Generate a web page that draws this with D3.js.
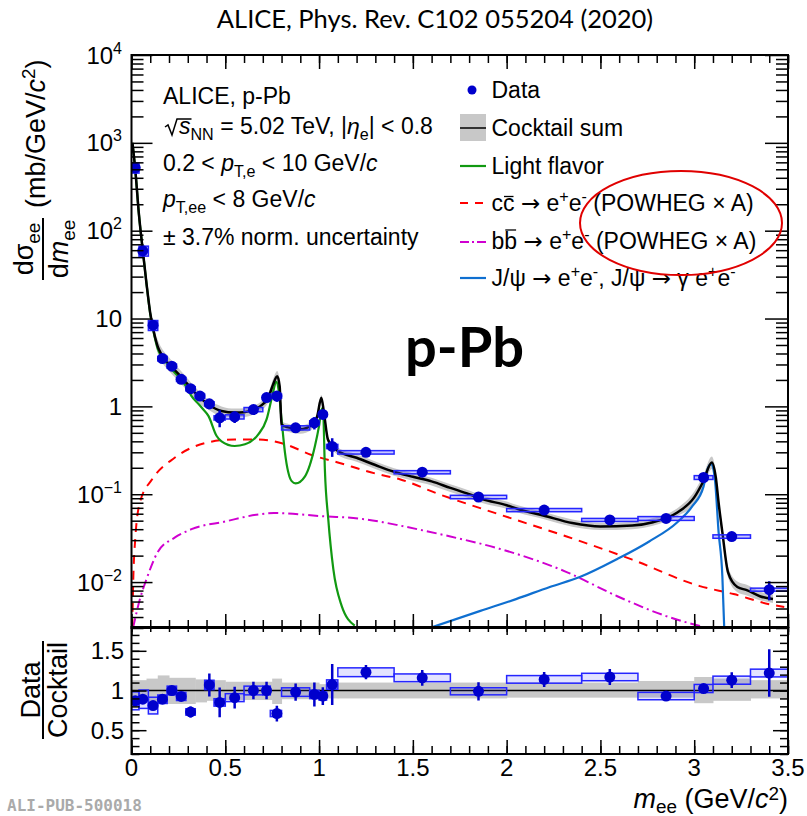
<!DOCTYPE html>
<html>
<head>
<meta charset="utf-8">
<script src="https://cdn.jsdelivr.net/npm/d3@7"></script>
<style>
  body { margin: 0; background: #fff; }
  text { font-family: "Liberation Sans", Arial, Helvetica, sans-serif; }
</style>
</head>
<body>
<svg id="chart" width="807" height="816"></svg>
<script>
// ---- data ----
var massX = [0.02, 0.06, 0.115, 0.165, 0.215, 0.265, 0.315, 0.365, 0.415, 0.47, 0.55, 0.65, 0.72, 0.775,
  0.875, 0.975, 1.02, 1.07, 1.25, 1.55, 1.85, 2.2, 2.55, 2.85, 3.05, 3.2, 3.4];
var binLo = [0, 0.04, 0.09, 0.14, 0.19, 0.24, 0.29, 0.34, 0.39, 0.44, 0.5, 0.6, 0.7, 0.74,
  0.8, 0.95, 1.0, 1.04, 1.1, 1.4, 1.7, 2.0, 2.4, 2.7, 3.0, 3.1, 3.3];
var binHi = [0.04, 0.09, 0.14, 0.19, 0.24, 0.29, 0.34, 0.39, 0.44, 0.5, 0.6, 0.7, 0.74, 0.8,
  0.95, 1.0, 1.04, 1.1, 1.4, 1.7, 2.0, 2.4, 2.7, 3.0, 3.1, 3.3, 3.5];
var yieldData = [520, 59, 8.4, 3.5, 2.87, 2.03, 1.59, 1.31, 1.07, 0.74, 0.76, 0.92, 1.26, 1.31,
  0.57, 0.65, 0.81, 0.35, 0.30, 0.178, 0.093, 0.066, 0.051, 0.053, 0.155, 0.033, 0.0082];
var statRel = [0.035, 0.025, 0.035, 0.035, 0.05, 0.045, 0.095, 0.06, 0.135, 0.22, 0.15, 0.11, 0.11, 0.14,
  0.11, 0.16, 0.12, 0.24, 0.073, 0.086, 0.116, 0.083, 0.085, 0.043, 0.03, 0.088, 0.246];
var sysRel = [0.13, 0.13, 0.13, 0.06, 0.055, 0.055, 0.055, 0.055, 0.055, 0.055, 0.055, 0.055, 0.055, 0.055,
  0.055, 0.055, 0.055, 0.055, 0.045, 0.042, 0.045, 0.042, 0.04, 0.05, 0.05, 0.045, 0.04];
var ratioData = [0.87, 0.89, 0.81, 0.89, 1.0, 0.925, 0.73, null, 1.07, 0.85, 0.91, 1.0, 1.0, 0.71,
  0.98, 0.95, 0.93, 1.075, 1.23, 1.16, 0.99, 1.14, 1.17, 0.93, 1.025, 1.13, 1.22];

// cocktail uncertainty (relative), stepwise in mass
var bandEdge = [0, 0.08, 0.14, 0.2, 0.34, 0.4, 0.5, 0.75, 0.8, 1.0, 1.1, 2.0, 2.7, 3.0, 3.1, 3.3, 3.5];
var bandHi = [1.13, 1.15, 1.19, 1.16, 1.14, 1.13, 1.11, 1.15, 1.1, 1.08, 1.1, 1.1, 1.12, 1.17, 1.15, 1.13];
var bandLo = [0.9, 0.85, 0.83, 0.83, 0.85, 0.87, 0.88, 0.83, 0.89, 0.9, 0.9, 0.91, 0.91, 0.84, 0.87, 0.9];

var cocktailSum = [[0.005, 1000], [0.02, 500], [0.04, 150], [0.06, 60], [0.08, 25], [0.1, 11.5], [0.125, 6.2],
  [0.14, 4.8], [0.16, 3.9], [0.196, 3.1], [0.25, 2.35], [0.3, 1.78], [0.338, 1.43], [0.41, 1.05],
  [0.48, 0.885], [0.55, 0.85], [0.6, 0.86], [0.65, 0.92], [0.685, 1.0], [0.73, 1.27], [0.755, 1.78],
  [0.777, 2.2], [0.79, 1.69], [0.8, 0.62], [0.83, 0.58], [0.9, 0.55], [0.96, 0.61], [0.99, 0.77],
  [1.012, 1.25], [1.026, 0.85], [1.047, 0.42], [1.074, 0.35], [1.1, 0.31], [1.2, 0.26], [1.3, 0.215],
  [1.4, 0.18], [1.5, 0.158], [1.6, 0.14], [1.7, 0.118], [1.8, 0.1], [1.87, 0.088], [2.0, 0.075],
  [2.06, 0.068], [2.2, 0.057], [2.35, 0.047], [2.5, 0.043], [2.67, 0.044], [2.78, 0.048], [2.91, 0.062],
  [3.0, 0.092], [3.046, 0.137], [3.094, 0.23], [3.115, 0.156], [3.13, 0.08], [3.15, 0.037], [3.18, 0.013],
  [3.23, 0.0088], [3.28, 0.0081], [3.35, 0.0069], [3.42, 0.0064]];
var lightFlavor = [[0.005, 1000], [0.02, 500], [0.04, 150], [0.06, 60], [0.08, 25], [0.1, 11.2], [0.125, 6.0],
  [0.14, 4.5], [0.17, 3.5], [0.232, 2.4], [0.26, 2.1], [0.29, 1.7], [0.32, 1.31], [0.36, 1.05], [0.383, 0.92],
  [0.41, 0.78], [0.454, 0.46], [0.48, 0.40], [0.55, 0.354], [0.605, 0.37], [0.676, 0.48], [0.72, 0.71],
  [0.75, 1.3], [0.772, 1.9], [0.785, 1.5], [0.8, 0.71], [0.818, 0.30], [0.854, 0.141], [0.875, 0.133],
  [0.925, 0.16], [0.978, 0.354], [1.0, 0.6], [1.015, 0.95], [1.022, 0.85], [1.031, 0.19], [1.049, 0.052],
  [1.076, 0.014], [1.12, 0.0054], [1.19, 0.0032]];
var charm = [[0.004, 0.003], [0.01, 0.0118], [0.02, 0.031], [0.045, 0.081], [0.11, 0.148], [0.23, 0.26],
  [0.41, 0.39], [0.55, 0.42], [0.67, 0.42], [0.82, 0.37], [0.96, 0.28], [1.1, 0.23], [1.31, 0.17],
  [1.43, 0.148], [1.64, 0.1], [1.96, 0.059], [2.32, 0.033], [2.67, 0.018], [3.03, 0.009], [3.21, 0.0073],
  [3.4, 0.0056], [3.48, 0.0052]];
var beauty = [[0.008, 0.003], [0.045, 0.0064], [0.08, 0.0108], [0.14, 0.022], [0.23, 0.032], [0.32, 0.040],
  [0.5, 0.049], [0.68, 0.059], [0.76, 0.061], [1.03, 0.056], [1.21, 0.053], [1.34, 0.048], [1.43, 0.044],
  [1.7, 0.033], [1.96, 0.024], [2.32, 0.013], [2.59, 0.0069], [2.85, 0.0041], [3.07, 0.003]];
var jpsi = [[1.59, 0.003], [1.86, 0.0047], [2.05, 0.0064], [2.23, 0.0088], [2.39, 0.0114], [2.59, 0.0183],
  [2.76, 0.029], [2.91, 0.048], [2.99, 0.073], [3.05, 0.123], [3.07, 0.19], [3.09, 0.22], [3.11, 0.15],
  [3.13, 0.037], [3.15, 0.0117], [3.16, 0.003]];

var xMajor = [0, 0.5, 1, 1.5, 2, 2.5, 3, 3.5];
var xLabels = ['0', '0.5', '1', '1.5', '2', '2.5', '3', '3.5'];
var yTopMajor = [1e-2, 1e-1, 1, 10, 1e2, 1e3, 1e4];
var yTopBase = ['10', '10', '1', '10', '10', '10', '10'];
var yTopExp = ['\u22122', '\u22121', '', '', '2', '3', '4'];
var yRatMajor = [0.5, 1, 1.5];
var yRatLabels = ['0.5', '1', '1.5'];

// ---- scales ----
var svg = d3.select('#chart');
var x = d3.scaleLinear().domain([0, 3.5]).range([131.5, 788]);
var yTop = d3.scaleLog().domain([3e-3, 1e4]).range([628, 55]);
var yRat = d3.scaleLinear().domain([0.2, 1.8]).range([754, 627]);

var DATA_COL = '#0000cc', BOX_COL = '#2525ff';

var defs = svg.append('defs');
defs.append('clipPath').attr('id', 'clipTop').append('rect')
  .attr('x', x(0)).attr('y', yTop(1e4)).attr('width', x(3.5) - x(0)).attr('height', yTop(3e-3) - yTop(1e4));
defs.append('clipPath').attr('id', 'clipRat').append('rect')
  .attr('x', x(0)).attr('y', yRat(1.8)).attr('width', x(3.5) - x(0)).attr('height', yRat(0.2) - yRat(1.8));

// rich text helper: parts = [[text, kind]], kind in '', 'i', 'sub', 'sup', 'sym'
function rich(parent, parts, size, subK, supK) {
  subK = subK || 0.26; supK = supK || 0.38;
  var t = parent.append('text').style('font-size', size + 'px');
  var shift = 0;
  parts.forEach(function(p) {
    var k = p[1] || '';
    var target = k === 'sub' ? subK * size : k === 'sup' ? -supK * size : 0;
    var ts = t.append('tspan').text(p[0]).attr('dy', target - shift);
    shift = target;
    if (k === 'sub' || k === 'sup') ts.style('font-size', 0.7 * size + 'px');
    if (k === 'i') ts.style('font-style', 'italic');
    if (k === 'sym') ts.style('font-family', '"DejaVu Sans", sans-serif');
  });
  return t;
}

function overline(t, idx, rise) {
  var e = t.node().getExtentOfChar(idx);
  var base = +t.attr('y');
  svg.append('line').attr('x1', e.x + 1).attr('x2', e.x + e.width - 1)
    .attr('y1', base - rise).attr('y2', base - rise).attr('stroke', '#000').attr('stroke-width', 1.3);
}

function bandAt(m, arr) {
  var i = Math.max(0, Math.min(arr.length - 1, d3.bisectRight(bandEdge, m) - 1));
  return arr[i];
}

// ---- title ----
svg.append('text').attr('x', 435).attr('y', 28).attr('text-anchor', 'middle')
  .style('font-family', 'Lato, "Open Sans", sans-serif').style('font-size', '25.5px')
  .text('ALICE, Phys. Rev. C102 055204 (2020)');

// ---- top panel ----
var topG = svg.append('g').attr('clip-path', 'url(#clipTop)');

var bandArea = d3.area().curve(d3.curveMonotoneX)
  .x(function(d) { return x(d[0]); })
  .y0(function(d) { return yTop(d[1] * bandAt(d[0], bandLo)); })
  .y1(function(d) { return yTop(d[1] * bandAt(d[0], bandHi)); });
topG.append('path').datum(cocktailSum).attr('d', bandArea).attr('fill', '#c8c8c8');

var line = d3.line().curve(d3.curveMonotoneX)
  .x(function(d) { return x(d[0]); })
  .y(function(d) { return yTop(d[1]); });

topG.append('path').datum(beauty).attr('d', line).attr('fill', 'none')
  .attr('stroke', '#d000d0').attr('stroke-width', 2).attr('stroke-dasharray', '10,4,2,4');
topG.append('path').datum(charm).attr('d', line).attr('fill', 'none')
  .attr('stroke', '#ff0000').attr('stroke-width', 2).attr('stroke-dasharray', '9,7');
topG.append('path').datum(jpsi).attr('d', line).attr('fill', 'none')
  .attr('stroke', '#0f6fd0').attr('stroke-width', 2.2);
topG.append('path').datum(lightFlavor).attr('d', line).attr('fill', 'none')
  .attr('stroke', '#119911').attr('stroke-width', 2.2);
topG.append('path').datum(cocktailSum).attr('d', line).attr('fill', 'none')
  .attr('stroke', '#000').attr('stroke-width', 2.5);

var idx = d3.range(massX.length);
topG.selectAll('rect.sys').data(idx).enter().append('rect').attr('class', 'sys')
  .attr('x', function(i) { return x(binLo[i]); })
  .attr('width', function(i) { return x(binHi[i]) - x(binLo[i]); })
  .attr('y', function(i) { return yTop(yieldData[i] * (1 + sysRel[i])); })
  .attr('height', function(i) { return yTop(yieldData[i] * (1 - sysRel[i])) - yTop(yieldData[i] * (1 + sysRel[i])); })
  .attr('fill', 'rgba(70,70,255,0.3)').attr('stroke', BOX_COL).attr('stroke-width', 1.5);
topG.selectAll('line.stat').data(idx).enter().append('line').attr('class', 'stat')
  .attr('x1', function(i) { return x(massX[i]); }).attr('x2', function(i) { return x(massX[i]); })
  .attr('y1', function(i) { return yTop(yieldData[i] * (1 + statRel[i])); })
  .attr('y2', function(i) { return yTop(yieldData[i] * (1 - statRel[i])); })
  .attr('stroke', DATA_COL).attr('stroke-width', 2.5);
topG.selectAll('circle').data(idx).enter().append('circle')
  .attr('cx', function(i) { return x(massX[i]); })
  .attr('cy', function(i) { return yTop(yieldData[i]); })
  .attr('r', 5.5).attr('fill', DATA_COL);

// ---- ratio panel ----
var ratG = svg.append('g').attr('clip-path', 'url(#clipRat)');
ratG.selectAll('rect.band').data(bandHi).enter().append('rect').attr('class', 'band')
  .attr('x', function(d, i) { return x(bandEdge[i]); })
  .attr('width', function(d, i) { return x(bandEdge[i + 1]) - x(bandEdge[i]) + 0.5; })
  .attr('y', function(d) { return yRat(d); })
  .attr('height', function(d, i) { return yRat(bandLo[i]) - yRat(d); })
  .attr('fill', '#c8c8c8');
ratG.append('path').datum([[0, 1], [3.5, 1]])
  .attr('d', d3.line().x(function(d) { return x(d[0]); }).y(function(d) { return yRat(d[1]); }))
  .attr('stroke', '#000').attr('stroke-width', 1.5);

var ridx = idx.filter(function(i) { return ratioData[i] !== null; });
ratG.selectAll('rect.sys').data(ridx).enter().append('rect').attr('class', 'sys')
  .attr('x', function(i) { return x(binLo[i]); })
  .attr('width', function(i) { return x(binHi[i]) - x(binLo[i]); })
  .attr('y', function(i) { return yRat(ratioData[i] * (1 + sysRel[i])); })
  .attr('height', function(i) { return yRat(ratioData[i] * (1 - sysRel[i])) - yRat(ratioData[i] * (1 + sysRel[i])); })
  .attr('fill', 'rgba(70,70,255,0.15)').attr('stroke', BOX_COL).attr('stroke-width', 1.5);
ratG.selectAll('line.stat').data(ridx).enter().append('line').attr('class', 'stat')
  .attr('x1', function(i) { return x(massX[i]); }).attr('x2', function(i) { return x(massX[i]); })
  .attr('y1', function(i) { return yRat(ratioData[i] * (1 + statRel[i])); })
  .attr('y2', function(i) { return yRat(ratioData[i] * (1 - statRel[i])); })
  .attr('stroke', DATA_COL).attr('stroke-width', 2.5);
ratG.selectAll('circle').data(ridx).enter().append('circle')
  .attr('cx', function(i) { return x(massX[i]); })
  .attr('cy', function(i) { return yRat(ratioData[i]); })
  .attr('r', 5.5).attr('fill', DATA_COL);

// ---- axes (ROOT style: inward ticks on all four sides) ----
function tickRow(axis, tx, ty, vals, size) {
  svg.append('g').attr('transform', 'translate(' + tx + ',' + ty + ')')
    .call(axis.tickValues(vals).tickSize(-size).tickFormat(''))
    .call(function(g) { g.select('.domain').remove(); })
    .selectAll('line').attr('stroke-width', 1.5);
}
var xMinor = d3.range(0, 36).map(function(i) { return i / 10; });
var logMinor = [];
for (var e = -3; e < 4; e++) for (var m = 2; m < 10; m++) {
  var v = m * Math.pow(10, e);
  if (v >= 3e-3 && v <= 1e4) logMinor.push(v);
}
var ratMinor = d3.range(2, 19).map(function(i) { return i / 10; });

tickRow(d3.axisTop(x), 0, 55, xMinor, 8);
tickRow(d3.axisTop(x), 0, 55, xMajor, 14);
tickRow(d3.axisBottom(x), 0, 628, xMinor, 8);
tickRow(d3.axisBottom(x), 0, 628, xMajor, 14);
tickRow(d3.axisLeft(yTop), x(0), 0, logMinor, 12);
tickRow(d3.axisLeft(yTop), x(0), 0, yTopMajor, 21);
tickRow(d3.axisRight(yTop), x(3.5), 0, logMinor, 12);
tickRow(d3.axisRight(yTop), x(3.5), 0, yTopMajor, 23);

tickRow(d3.axisTop(x), 0, 627, xMinor, 5);
tickRow(d3.axisTop(x), 0, 627, xMajor, 8);
tickRow(d3.axisBottom(x), 0, 754, xMinor, 8);
tickRow(d3.axisBottom(x), 0, 754, xMajor, 14);
tickRow(d3.axisLeft(yRat), x(0), 0, ratMinor, 8);
tickRow(d3.axisLeft(yRat), x(0), 0, yRatMajor, 15);
tickRow(d3.axisRight(yRat), x(3.5), 0, ratMinor, 8);
tickRow(d3.axisRight(yRat), x(3.5), 0, yRatMajor, 15);

// frames
svg.append('rect').attr('x', x(0)).attr('y', yTop(1e4)).attr('width', x(3.5) - x(0))
  .attr('height', yTop(3e-3) - yTop(1e4)).attr('fill', 'none').attr('stroke', '#000').attr('stroke-width', 2);
svg.append('rect').attr('x', x(0)).attr('y', yRat(1.8)).attr('width', x(3.5) - x(0))
  .attr('height', yRat(0.2) - yRat(1.8)).attr('fill', 'none').attr('stroke', '#000').attr('stroke-width', 2);

// tick labels
svg.selectAll('text.xl').data(xMajor).enter().append('text').attr('class', 'xl')
  .attr('x', function(d) { return x(d); }).attr('y', 776).attr('text-anchor', 'middle')
  .style('font-size', '24px').text(function(d, i) { return xLabels[i]; });
yTopMajor.forEach(function(v, i) {
  var t = svg.append('text').attr('x', 122).attr('y', yTop(v) + 8.5).attr('text-anchor', 'end')
    .style('font-size', '24px');
  t.append('tspan').text(yTopBase[i]);
  if (yTopExp[i]) t.append('tspan').attr('dy', -10).style('font-size', '16px').text(yTopExp[i]);
});
yRatMajor.forEach(function(v, i) {
  svg.append('text').attr('x', 124).attr('y', yRat(v) + 8.5).attr('text-anchor', 'end')
    .style('font-size', '24px').text(yRatLabels[i]);
});

// axis titles
var yt = svg.append('g').attr('transform', 'translate(43,280) rotate(-90)');
rich(yt, [['d\u03c3'], ['ee', 'sub']], 27).attr('x', 31).attr('y', -10).attr('text-anchor', 'middle');
yt.append('line').attr('x1', 0).attr('x2', 62).attr('stroke', '#000').attr('stroke-width', 2);
rich(yt, [['d'], ['m', 'i'], ['ee', 'sub']], 27).attr('x', 31).attr('y', 25).attr('text-anchor', 'middle');
rich(yt, [['(mb/GeV/'], ['c', 'i'], ['2', 'sup'], [')']], 27).attr('x', 72).attr('y', 2);

var rt = svg.append('g').attr('transform', 'translate(43,739) rotate(-90)');
rich(rt, [['Data']], 27).attr('x', 49).attr('y', -3).attr('text-anchor', 'middle');
rt.append('line').attr('x1', 0).attr('x2', 98).attr('stroke', '#000').attr('stroke-width', 2);
rich(rt, [['Cocktail']], 27).attr('x', 49).attr('y', 24).attr('text-anchor', 'middle');

rich(svg, [['m', 'i'], ['ee', 'sub'], [' (GeV/'], ['c', 'i'], ['2', 'sup'], [')']], 27, 0.18, 0.3)
  .attr('x', 788).attr('y', 808).attr('text-anchor', 'end');

// ---- info text ----
var FS = 23;
rich(svg, [['ALICE, p-Pb']], FS).attr('x', 163).attr('y', 104);
var sq = rich(svg, [['s', 'i'], ['NN', 'sub'], [' = 5.02 TeV, |'], ['\u03b7', 'i'], ['e', 'sub'], ['| < 0.8']], FS)
  .attr('x', 179).attr('y', 134);
var se = sq.node().getExtentOfChar(0);
svg.append('path').attr('fill', 'none').attr('stroke', '#000').attr('stroke-width', 1.5)
  .attr('d', 'M165,127 L168,125 L172,135 L177,119 L' + (se.x + se.width + 1) + ',119');
rich(svg, [['0.2 < '], ['p', 'i'], ['T,e', 'sub'], [' < 10 GeV/'], ['c', 'i']], FS).attr('x', 163).attr('y', 171);
rich(svg, [['p', 'i'], ['T,ee', 'sub'], [' < 8 GeV/'], ['c', 'i']], FS).attr('x', 163).attr('y', 207);
rich(svg, [['\u00b1 3.7% norm. uncertainty']], FS).attr('x', 163).attr('y', 245);

// ---- legend ----
var LX = 491.5;
svg.append('circle').attr('cx', 472).attr('cy', 90).attr('r', 4.5).attr('fill', DATA_COL);
rich(svg, [['Data']], FS).attr('x', LX).attr('y', 98);
svg.append('rect').attr('x', 460).attr('y', 114).attr('width', 26).attr('height', 27).attr('fill', '#c8c8c8');
svg.append('line').attr('x1', 460).attr('x2', 486).attr('y1', 128).attr('y2', 128).attr('stroke', '#000').attr('stroke-width', 1.5);
rich(svg, [['Cocktail sum']], FS).attr('x', LX).attr('y', 136);
svg.append('line').attr('x1', 460).attr('x2', 486).attr('y1', 166).attr('y2', 166).attr('stroke', '#119911').attr('stroke-width', 2.2);
rich(svg, [['Light flavor']], FS).attr('x', LX).attr('y', 174);
svg.append('line').attr('x1', 460).attr('x2', 486).attr('y1', 203).attr('y2', 203).attr('stroke', '#ff0000')
  .attr('stroke-width', 2).attr('stroke-dasharray', '8,7');
var cc = rich(svg, [['cc '], ['\u2192', 'sym'], [' e'], ['+', 'sup'], ['e'], ['-', 'sup'], [' (POWHEG \u00d7 A)']], FS)
  .attr('x', LX).attr('y', 211);
overline(cc, 1, 14.5);
svg.append('line').attr('x1', 460).attr('x2', 486).attr('y1', 242).attr('y2', 242).attr('stroke', '#d000d0')
  .attr('stroke-width', 2).attr('stroke-dasharray', '9,3,2,3');
var bb = rich(svg, [['bb '], ['\u2192', 'sym'], [' e'], ['+', 'sup'], ['e'], ['-', 'sup'], [' (POWHEG \u00d7 A)']], FS)
  .attr('x', LX).attr('y', 249);
overline(bb, 1, 19);
svg.append('line').attr('x1', 460).attr('x2', 486).attr('y1', 278).attr('y2', 278).attr('stroke', '#0f6fd0').attr('stroke-width', 2.2);
rich(svg, [['J/\u03c8 '], ['\u2192', 'sym'], [' e'], ['+', 'sup'], ['e'], ['-', 'sup'], [', J/\u03c8 '], ['\u2192', 'sym'],
  [' \u03b3 e'], ['+', 'sup'], ['e'], ['-', 'sup']], FS)
  .attr('x', LX).attr('y', 286);

// annotation
svg.append('ellipse').attr('cx', 681).attr('cy', 223).attr('rx', 101).attr('ry', 52)
  .attr('fill', 'none').attr('stroke', '#e00000').attr('stroke-width', 2);
svg.append('text').attr('x', 405).attr('y', 367)
  .style('font-family', 'Lato, "Open Sans", sans-serif').style('font-weight', 'bold').style('font-size', '56px')
  .text('p-Pb');

svg.append('text').attr('x', 7).attr('y', 811)
  .style('font-family', '"DejaVu Sans Mono", monospace').style('font-weight', 'bold').style('font-size', '16px')
  .attr('fill', '#aaaaaa').text('ALI-PUB-500018');
</script>
</body>
</html>
